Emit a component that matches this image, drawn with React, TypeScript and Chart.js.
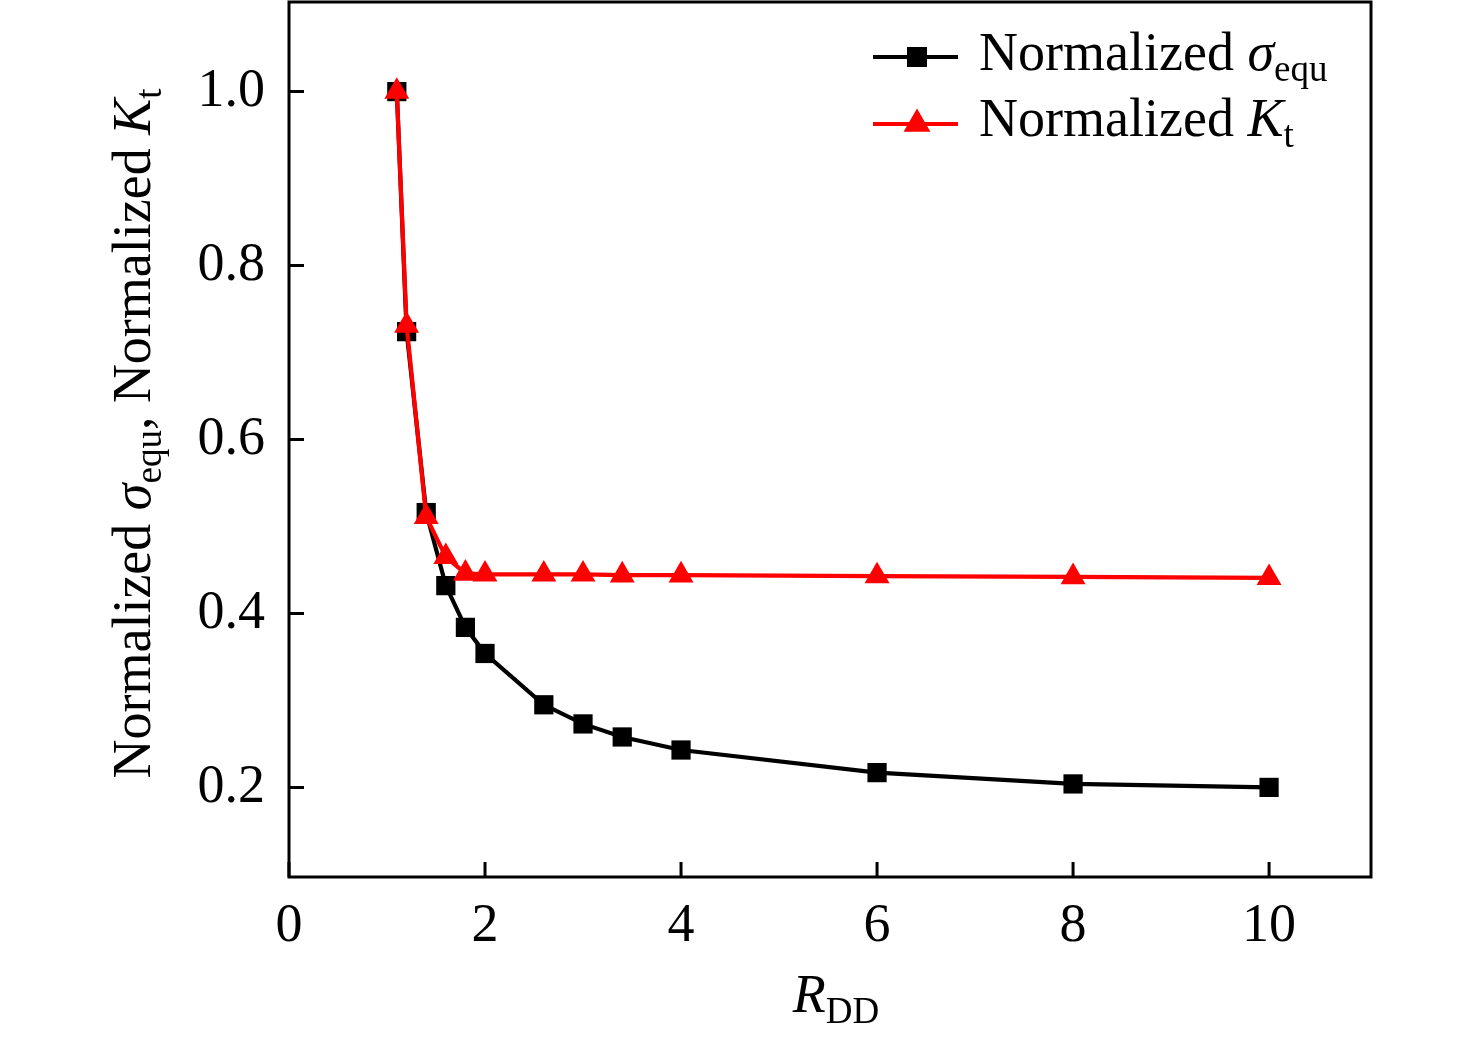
import { useEffect, useRef } from "react";
import { Chart, registerables } from "chart.js";

Chart.register(...registerables);

// R_DD values shared by both series
const rdd = [1.1, 1.2, 1.4, 1.6, 1.8, 2.0, 2.6, 3.0, 3.4, 4.0, 6.0, 8.0, 10.0];
const sigmaEqu = [1.0, 0.724, 0.516, 0.432, 0.384, 0.354, 0.295, 0.273, 0.258, 0.243, 0.217, 0.204, 0.2];
const kt = [1.0, 0.731, 0.511, 0.465, 0.446, 0.445, 0.445, 0.445, 0.444, 0.444, 0.443, 0.442, 0.441];

const xTicks = [0, 2, 4, 6, 8, 10];
const yTicks = [0.2, 0.4, 0.6, 0.8, 1.0];

const FONT = '"Liberation Serif", "Times New Roman", serif';
const MAIN = 54;
const SUB = 37;
const SUB_SHIFT = 11;
const LINE_W = 4.2;

type Run = { text: string; italic?: boolean; sub?: boolean };

function runFont(r: Run) {
  return `${r.italic ? "italic " : ""}${r.sub ? SUB : MAIN}px ${FONT}`;
}

function runsWidth(ctx: CanvasRenderingContext2D, runs: Run[]) {
  let w = 0;
  for (const r of runs) {
    ctx.font = runFont(r);
    w += ctx.measureText(r.text).width;
  }
  return w;
}

function drawRuns(ctx: CanvasRenderingContext2D, runs: Run[], x: number, y: number) {
  let cx = x;
  ctx.textBaseline = "alphabetic";
  ctx.textAlign = "left";
  for (const r of runs) {
    ctx.font = runFont(r);
    ctx.fillText(r.text, cx, y + (r.sub ? SUB_SHIFT : 0));
    cx += ctx.measureText(r.text).width;
  }
}

const sigmaLabel: Run[] = [{ text: "Normalized " }, { text: "σ", italic: true }, { text: "equ", sub: true }];
const ktLabel: Run[] = [{ text: "Normalized " }, { text: "K", italic: true }, { text: "t", sub: true }];
const yTitle: Run[] = [...sigmaLabel, { text: ", " }, ...ktLabel];
const xTitle: Run[] = [{ text: "R", italic: true }, { text: "DD", sub: true }];

const framePlugin = {
  id: "originFrame",
  afterDraw(chart: Chart) {
    const { ctx, chartArea } = chart;
    const { left, right, top, bottom } = chartArea;
    const xs = chart.scales.x;
    const ys = chart.scales.y;
    ctx.save();
    ctx.strokeStyle = "#000";
    ctx.lineWidth = 3;
    ctx.strokeRect(left, top, right - left, bottom - top);

    // inward ticks
    ctx.beginPath();
    for (const v of xTicks) {
      const px = xs.getPixelForValue(v);
      ctx.moveTo(px, bottom);
      ctx.lineTo(px, bottom - 15);
    }
    for (const v of yTicks) {
      const py = ys.getPixelForValue(v);
      ctx.moveTo(left, py);
      ctx.lineTo(left + 15, py);
    }
    ctx.stroke();

    ctx.fillStyle = "#000";

    // x title
    const xw = runsWidth(ctx, xTitle);
    drawRuns(ctx, xTitle, (left + right) / 2 + 6 - xw / 2, bottom + 135);

    // y title
    const yw = runsWidth(ctx, yTitle);
    ctx.save();
    ctx.translate(150, (top + bottom) / 2 - 6);
    ctx.rotate(-Math.PI / 2);
    drawRuns(ctx, yTitle, -yw / 2, 0);
    ctx.restore();

    // legend
    const lx0 = right - 498;
    const lx1 = right - 413;
    const mx = right - 454;
    const tx = right - 392;

    const row1 = top + 55;
    ctx.lineWidth = LINE_W;
    ctx.strokeStyle = "#000";
    ctx.beginPath();
    ctx.moveTo(lx0, row1);
    ctx.lineTo(lx1, row1);
    ctx.stroke();
    ctx.fillStyle = "#000";
    ctx.fillRect(mx - 10, row1 - 10, 20, 20);
    drawRuns(ctx, sigmaLabel, tx, top + 68);

    const row2 = top + 122;
    ctx.strokeStyle = "#ff0000";
    ctx.beginPath();
    ctx.moveTo(lx0, row2);
    ctx.lineTo(lx1, row2);
    ctx.stroke();
    const r = 15.5;
    ctx.fillStyle = "#ff0000";
    ctx.beginPath();
    ctx.moveTo(mx, row2 - r);
    ctx.lineTo(mx + r * Math.sin((2 * Math.PI) / 3), row2 + r / 2);
    ctx.lineTo(mx - r * Math.sin((2 * Math.PI) / 3), row2 + r / 2);
    ctx.closePath();
    ctx.fill();
    ctx.fillStyle = "#000";
    drawRuns(ctx, ktLabel, tx, top + 134);

    ctx.restore();
  },
};

export default function App() {
  const canvasRef = useRef<HTMLCanvasElement>(null);
  const chartRef = useRef<Chart | null>(null);

  useEffect(() => {
    document.body.style.margin = "0";
    if (!canvasRef.current) return;
    if (chartRef.current) chartRef.current.destroy();

    chartRef.current = new Chart(canvasRef.current, {
      type: "line",
      data: {
        datasets: [
          {
            label: "Normalized σequ",
            data: rdd.map((x, i) => ({ x, y: sigmaEqu[i] })),
            borderColor: "#000",
            backgroundColor: "#000",
            borderWidth: LINE_W,
            pointStyle: "rect",
            pointRadius: 13.6,
            pointBorderWidth: 0,
            tension: 0,
            order: 1,
          },
          {
            label: "Normalized Kt",
            data: rdd.map((x, i) => ({ x, y: kt[i] })),
            borderColor: "#ff0000",
            backgroundColor: "#ff0000",
            borderWidth: LINE_W,
            pointStyle: "triangle",
            pointRadius: 14.4,
            pointBorderWidth: 0,
            tension: 0,
            order: 0,
          },
        ],
      },
      options: {
        responsive: true,
        maintainAspectRatio: false,
        animation: false,
        layout: { autoPadding: false, padding: { top: 2, right: 105, left: 0, bottom: 0 } },
        scales: {
          x: {
            type: "linear",
            min: 0,
            max: 11.04,
            grid: { display: false, drawTicks: false },
            border: { display: false },
            afterBuildTicks: (scale: any) => {
              scale.ticks = xTicks.map((value) => ({ value }));
            },
            afterFit: (scale: any) => {
              scale.height = 163;
              scale.paddingLeft = 0;
              scale.paddingRight = 0;
            },
            ticks: {
              color: "#000",
              font: { family: FONT, size: MAIN },
              padding: 17,
              maxRotation: 0,
              autoSkip: false,
              callback: (v: any) => String(v),
            },
          },
          y: {
            type: "linear",
            min: 0.097,
            max: 1.103,
            grid: { display: false, drawTicks: false },
            border: { display: false },
            afterBuildTicks: (scale: any) => {
              scale.ticks = yTicks.map((value) => ({ value }));
            },
            afterFit: (scale: any) => {
              scale.width = 289;
              scale.paddingTop = 0;
              scale.paddingBottom = 0;
            },
            ticks: {
              color: "#000",
              font: { family: FONT, size: MAIN },
              padding: 24,
              autoSkip: false,
              callback: (v: any) => Number(v).toFixed(1),
            },
          },
        },
        plugins: {
          legend: { display: false },
          tooltip: { enabled: false },
        },
      },
      plugins: [framePlugin],
    });

    return () => {
      if (chartRef.current) {
        chartRef.current.destroy();
        chartRef.current = null;
      }
    };
  }, []);

  return (
    <div style={{ width: "1476px", height: "1040px", position: "relative", background: "#fff" }}>
      <canvas ref={canvasRef} />
    </div>
  );
}
